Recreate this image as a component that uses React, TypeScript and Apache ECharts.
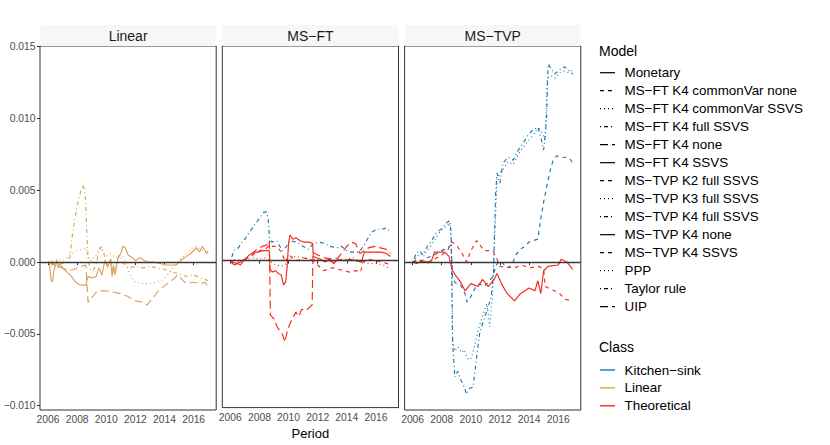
import React, { useEffect, useRef } from "react";
import * as echarts from "echarts";

type Pt = [number, number];

const panelTitles = ["Linear", "MS−FT", "MS−TVP"];
const xTickValues = [2006, 2008, 2010, 2012, 2014, 2016];
const yTickValues = [-0.01, -0.005, 0, 0.005, 0.01, 0.015];
const modelNames = [
  "Monetary",
  "MS−FT K4 commonVar none",
  "MS−FT K4 commonVar SSVS",
  "MS−FT K4 full SSVS",
  "MS−FT K4 none",
  "MS−FT K4 SSVS",
  "MS−TVP K2 full SSVS",
  "MS−TVP K3 full SSVS",
  "MS−TVP K4 full SSVS",
  "MS−TVP K4 none",
  "MS−TVP K4 SSVS",
  "PPP",
  "Taylor rule",
  "UIP",
];
const modelLineTypes = [
  "solid", "dashed", "dotted", "dotdash", "longdash", "solid", "dashed",
  "dotted", "dotdash", "solid", "dashed", "dotted", "dotdash", "longdash",
];
const classNames = ["Kitchen−sink", "Linear", "Theoretical"];
const classColors = ["#1a78ab", "#d9a35a", "#f7291a"];

// ---- Linear panel ----
const linMonetary: Pt[] = [[2006.0,0],[2006.1,-0.0001],[2006.2,-0.0012],[2006.3,-0.0014],[2006.4,-0.0006],[2006.5,-0.0003],[2006.6,0.0001],[2006.7,-0.0004],[2006.8,-0.0001],[2007.0,-0.0004],[2007.3,-0.0007],[2007.6,-0.001],[2007.9,-0.0014],[2008.2,-0.0016],[2008.6,-0.0016],[2008.75,-0.001],[2009.0,-0.0011],[2009.3,-0.001],[2009.5,-0.0004],[2009.7,-0.0009],[2009.9,0.0001],[2010.1,-0.0003],[2010.3,0.0002],[2010.4,-0.001],[2010.5,-0.0002],[2010.6,-0.0009],[2010.8,0.0003],[2011.0,0.0006],[2011.15,0.0011],[2011.3,0.001],[2011.5,0.0005],[2011.8,0.0003],[2012.0,0.0001],[2012.3,0.0003],[2012.8,0.0],[2013.2,0.0],[2013.7,-0.0001],[2014.1,-0.0002],[2014.8,-0.0002],[2015.1,0.0001],[2015.5,0.0004],[2015.8,0.0006],[2016.2,0.001],[2016.4,0.0007],[2016.6,0.0011],[2016.9,0.0006],[2017.0,0.0008]];
const linPPP: Pt[] = [[2006.0,0],[2006.3,0.0001],[2006.7,0.0002],[2007.0,0.0001],[2007.3,0.0003],[2007.6,0.0006],[2008.0,0.0008],[2008.3,0.0009],[2008.6,0.001],[2008.8,0.0002],[2009.0,0.0001],[2009.3,0.0005],[2009.5,0.001],[2009.7,0.0008],[2010.0,0.0004],[2010.3,0.0006],[2010.6,0.0003],[2011.0,0.0005],[2011.3,0.0002],[2011.5,-0.0005],[2011.8,-0.0012],[2012.0,-0.0014],[2012.5,-0.0015],[2013.0,-0.0015],[2013.5,-0.0014],[2013.8,-0.0013],[2014.2,-0.0009],[2014.6,-0.0004],[2015.0,0.0001],[2015.3,0.0004],[2015.6,0.0007],[2015.9,0.001],[2016.2,0.0011],[2016.6,0.0008],[2017.0,0.0005]];
const linTaylor: Pt[] = [[2006.0,0],[2006.3,-0.0002],[2006.6,0.0001],[2007.0,-0.0001],[2007.3,0.0],[2007.5,0.0003],[2007.65,0.0017],[2007.8,0.0027],[2007.95,0.0036],[2008.1,0.0044],[2008.3,0.0051],[2008.4,0.0054],[2008.55,0.0048],[2008.65,0.0025],[2008.75,0.0002],[2008.9,-0.0005],[2009.1,-0.0006],[2009.3,-0.0002],[2009.5,0.0008],[2009.7,0.0011],[2009.9,0.0003],[2010.1,-0.0004],[2010.3,0.0002],[2010.5,-0.0008],[2010.7,-0.0003],[2010.9,0.0005],[2011.2,-0.0001],[2011.5,-0.0004],[2012.0,-0.0003],[2012.5,-0.0004],[2013.0,-0.0003],[2013.5,-0.0004],[2014.0,-0.0005],[2014.5,-0.0007],[2015.0,-0.0008],[2015.5,-0.001],[2016.0,-0.0009],[2016.5,-0.0011],[2017.0,-0.0013]];
const linUIP: Pt[] = [[2006.0,0],[2006.3,-0.0001],[2006.6,-0.0003],[2007.0,-0.0004],[2007.4,-0.0006],[2007.8,-0.0005],[2008.2,-0.0003],[2008.6,-0.0002],[2008.75,-0.0028],[2009.0,-0.0025],[2009.3,-0.0021],[2009.6,-0.002],[2010.0,-0.002],[2010.5,-0.0021],[2011.0,-0.0022],[2011.5,-0.0024],[2012.0,-0.0027],[2012.5,-0.0028],[2012.8,-0.003],[2013.2,-0.0025],[2013.5,-0.0021],[2013.8,-0.0018],[2014.2,-0.0015],[2014.6,-0.0012],[2014.9,-0.0009],[2015.2,-0.0012],[2015.5,-0.0015],[2016.0,-0.0014],[2016.5,-0.0015],[2016.8,-0.0014],[2017.0,-0.0018]];

// ---- MS-FT panel ----
const ftCommonVarNone: Pt[] = [[2006.0,0],[2006.3,-0.0002],[2006.7,-0.0001],[2007.2,0.0002],[2007.7,0.0005],[2008.0,0.0007],[2008.4,0.0008],[2008.7,0.0011],[2008.9,0.001],[2009.2,0.001],[2009.5,0.0006],[2009.8,-0.0001],[2010.0,0.0004],[2010.3,0.0002],[2010.6,0.0],[2011.0,0.0002],[2011.5,0.0001],[2011.8,-0.0001],[2012.1,-0.0004],[2012.4,-0.0007],[2012.7,-0.0006],[2013.0,-0.0005],[2013.4,-0.0006],[2013.8,-0.0007],[2014.2,-0.0008],[2014.6,-0.0007],[2014.95,-0.0008],[2015.1,-0.0001],[2015.5,0.0001],[2016.0,0.0],[2016.5,-0.0001],[2017.0,-0.0003]];
const ftCommonVarSSVS: Pt[] = [[2006.0,0],[2006.4,0.0001],[2006.8,-0.0001],[2007.2,0.0001],[2007.6,0.0002],[2008.0,0.0001],[2008.4,0.0002],[2008.7,0.0],[2008.9,-0.0002],[2009.2,-0.0003],[2009.5,-0.0004],[2009.9,-0.0002],[2010.2,0.0002],[2010.5,0.0003],[2011.0,0.0002],[2011.5,0.0001],[2012.0,0.0001],[2012.5,0.0],[2013.0,-0.0001],[2013.5,0.0001],[2014.0,0.0001],[2014.5,0.0002],[2015.0,-0.0001],[2015.5,-0.0002],[2016.0,-0.0002],[2016.5,-0.0003],[2017.0,-0.0006]];
const ftFullSSVS: Pt[] = [[2006.0,0],[2006.3,0.0008],[2006.55,0.0009],[2006.8,0.0013],[2007.0,0.0015],[2007.25,0.0019],[2007.6,0.0024],[2007.95,0.0029],[2008.3,0.0034],[2008.5,0.0034],[2008.6,0.0029],[2008.7,0.0015],[2008.85,0.0013],[2009.2,0.0014],[2009.4,0.001],[2009.6,0.0007],[2009.85,0.001],[2010.1,0.0014],[2010.55,0.0013],[2011.0,0.001],[2011.35,0.0008],[2011.7,0.0012],[2012.1,0.0013],[2012.5,0.0012],[2012.85,0.001],[2013.3,0.0009],[2013.65,0.001],[2014.0,0.0007],[2014.3,0.0006],[2014.8,0.0006],[2015.0,0.0008],[2015.35,0.0014],[2015.7,0.002],[2016.05,0.0022],[2016.4,0.0022],[2016.75,0.0023],[2017.0,0.002]];
const ftNone: Pt[] = [[2006.0,0],[2006.4,-0.0002],[2006.8,0.0],[2007.2,0.0002],[2007.5,0.0004],[2007.8,0.0008],[2008.2,0.001],[2008.5,0.0011],[2008.68,0.0014],[2008.75,-0.0038],[2009.0,-0.0041],[2009.2,-0.0046],[2009.45,-0.005],[2009.6,-0.0052],[2009.75,-0.0057],[2009.9,-0.005],[2010.1,-0.0044],[2010.3,-0.004],[2010.5,-0.0036],[2010.7,-0.0039],[2010.9,-0.0034],[2011.2,-0.0035],[2011.4,-0.0033],[2011.62,-0.0031],[2011.68,0.0006],[2012.0,0.0004],[2012.5,0.0002],[2013.0,0.0001],[2013.4,0.0002],[2013.7,0.0006],[2014.0,0.001],[2014.3,0.0013],[2014.6,0.0012],[2014.9,0.0005],[2015.2,0.0007],[2015.5,0.0009],[2015.9,0.001],[2016.3,0.0009],[2016.7,0.0008],[2017.0,0.0005]];
const ftSSVS: Pt[] = [[2006.0,0],[2006.15,-0.0002],[2006.3,-0.0003],[2006.5,-0.0002],[2006.7,-0.0003],[2006.9,0.0],[2007.1,0.0002],[2007.3,0.0004],[2007.6,0.0006],[2007.9,0.0006],[2008.2,0.0007],[2008.5,0.0007],[2008.68,0.0007],[2008.72,-0.0006],[2008.9,-0.0008],[2009.1,-0.0007],[2009.3,-0.0009],[2009.5,-0.001],[2009.65,-0.0017],[2009.8,-0.0015],[2009.9,-0.0005],[2010.0,0.0012],[2010.1,0.0018],[2010.3,0.0015],[2010.5,0.0016],[2010.8,0.0014],[2011.1,0.0013],[2011.4,0.0013],[2011.65,0.0012],[2011.7,0.0003],[2011.9,0.0002],[2012.2,0.0001],[2012.5,-0.0001],[2012.8,0.0001],[2013.1,-0.0002],[2013.4,0.0001],[2013.8,0.0],[2014.2,0.0001],[2014.6,0.0],[2015.0,-0.0001],[2015.2,0.0006],[2015.6,0.0006],[2016.0,0.0006],[2016.4,0.0006],[2016.7,0.0005],[2017.0,0.0003]];

// ---- MS-TVP panel ----
const tvpK2Full: Pt[] = [[2006.0,0],[2006.3,0.0002],[2006.6,0.0001],[2007.0,0.0003],[2007.5,0.0005],[2008.0,0.0008],[2008.4,0.001],[2008.65,0.0012],[2008.75,-0.0012],[2009.0,-0.0015],[2009.3,-0.0016],[2009.6,-0.0022],[2009.75,-0.0028],[2010.0,-0.0024],[2010.3,-0.0018],[2010.6,-0.0015],[2010.9,-0.0017],[2011.2,-0.0014],[2011.5,-0.001],[2011.75,-0.0002],[2012.0,0.0001],[2012.3,-0.0002],[2012.6,-0.0004],[2012.9,0.0],[2013.1,0.0005],[2013.4,0.0009],[2013.7,0.0011],[2014.0,0.0014],[2014.3,0.0015],[2014.6,0.0016],[2014.8,0.003],[2015.0,0.0042],[2015.2,0.0052],[2015.45,0.0064],[2015.65,0.0071],[2015.9,0.0074],[2016.2,0.0073],[2016.5,0.0073],[2016.8,0.0072],[2017.0,0.0069]];
const tvpK3Full: Pt[] = [[2006.0,0],[2006.25,0.0003],[2006.5,0.0006],[2006.75,0.0004],[2007.0,0.0008],[2007.3,0.0012],[2007.6,0.0017],[2007.95,0.0022],[2008.3,0.0025],[2008.55,0.0027],[2008.65,0.0015],[2008.75,-0.0055],[2008.9,-0.0062],[2009.1,-0.0059],[2009.35,-0.0063],[2009.55,-0.0061],[2009.75,-0.0067],[2009.95,-0.0068],[2010.15,-0.0063],[2010.4,-0.0052],[2010.6,-0.0044],[2010.85,-0.0036],[2011.1,-0.0029],[2011.3,-0.0045],[2011.5,-0.002],[2011.65,0.002],[2011.8,0.0058],[2012.0,0.0062],[2012.3,0.0066],[2012.55,0.007],[2012.9,0.0068],[2013.25,0.0075],[2013.6,0.008],[2013.9,0.0084],[2014.25,0.0088],[2014.5,0.0092],[2014.7,0.0093],[2014.9,0.009],[2015.1,0.0085],[2015.25,0.0128],[2015.5,0.013],[2015.8,0.0128],[2016.1,0.0132],[2016.4,0.0133],[2016.7,0.0132],[2017.0,0.0134]];
const tvpK4Full: Pt[] = [[2006.0,0],[2006.25,0.0006],[2006.5,0.0008],[2006.7,0.0005],[2006.95,0.001],[2007.3,0.0015],[2007.6,0.002],[2007.95,0.0023],[2008.3,0.0027],[2008.55,0.0029],[2008.65,0.002],[2008.75,-0.0057],[2008.9,-0.008],[2009.1,-0.0076],[2009.35,-0.0083],[2009.55,-0.0087],[2009.7,-0.0092],[2009.9,-0.0088],[2010.15,-0.0087],[2010.4,-0.0066],[2010.6,-0.005],[2010.85,-0.0041],[2011.2,-0.0031],[2011.4,-0.0024],[2011.55,-0.0008],[2011.7,0.0048],[2011.8,0.0062],[2012.0,0.0055],[2012.2,0.0069],[2012.55,0.0073],[2012.9,0.0071],[2013.25,0.0078],[2013.6,0.0083],[2013.9,0.0088],[2014.25,0.0092],[2014.6,0.0094],[2014.85,0.0085],[2015.0,0.0078],[2015.2,0.0099],[2015.3,0.0138],[2015.5,0.0135],[2015.75,0.0131],[2016.0,0.0133],[2016.2,0.0135],[2016.45,0.0136],[2016.65,0.0134],[2017.0,0.0131]];
const tvpK4None: Pt[] = [[2006.0,0],[2006.3,-0.0001],[2006.6,0.0001],[2007.0,0.0],[2007.3,0.0001],[2007.5,0.0007],[2007.9,0.0007],[2008.2,0.0007],[2008.5,0.0004],[2008.7,-0.0005],[2009.0,-0.001],[2009.3,-0.0014],[2009.6,-0.002],[2010.0,-0.0015],[2010.5,-0.0017],[2010.8,-0.0012],[2011.2,-0.0017],[2011.6,-0.0012],[2011.8,-0.0008],[2012.1,-0.0015],[2012.5,-0.0022],[2013.0,-0.0027],[2013.4,-0.0022],[2014.0,-0.0018],[2014.4,-0.002],[2014.6,-0.0013],[2014.8,-0.0022],[2015.0,-0.0006],[2015.3,-0.0003],[2016.0,-0.0002],[2016.2,0.0002],[2016.6,0.0],[2017.0,-0.0005]];
const tvpK4SSVS: Pt[] = [[2006.0,0],[2006.5,0.0001],[2007.0,-0.0001],[2007.5,0.0002],[2008.0,0.0005],[2008.4,0.0008],[2008.7,0.0014],[2009.0,0.0012],[2009.4,0.0006],[2009.7,0.0],[2010.0,0.0008],[2010.4,0.0015],[2010.9,0.0008],[2011.5,0.0008],[2011.8,0.0002],[2012.0,-0.0003],[2013.0,-0.0004],[2013.5,-0.0002],[2014.0,-0.0004],[2014.7,-0.0003],[2015.0,-0.0005],[2015.1,-0.0017],[2015.5,-0.0019],[2016.0,-0.0021],[2016.5,-0.0026],[2017.0,-0.0027]];

// panel index, model index, class index, data
const seriesDefs: [number, number, number, Pt[]][] = [
  [0, 0, 1, linMonetary],
  [0, 11, 1, linPPP],
  [0, 12, 1, linTaylor],
  [0, 13, 1, linUIP],
  [1, 1, 2, ftCommonVarNone],
  [1, 2, 2, ftCommonVarSSVS],
  [1, 3, 0, ftFullSSVS],
  [1, 4, 2, ftNone],
  [1, 5, 2, ftSSVS],
  [2, 6, 0, tvpK2Full],
  [2, 7, 0, tvpK3Full],
  [2, 8, 0, tvpK4Full],
  [2, 9, 2, tvpK4None],
  [2, 10, 2, tvpK4SSVS],
];

const dashFor = (t: string): any => {
  if (t === "dashed") return [4, 4];
  if (t === "dotted") return [1, 3];
  if (t === "dotdash") return [1, 3, 4, 3];
  if (t === "longdash") return [8, 4];
  return "solid";
};

const FONT = "Liberation Sans, Arial, Helvetica, sans-serif";
const PANEL_LEFTS = [40, 222.3, 404.6];
const PANEL_W = 176.2;
const PANEL_TOP = 46;
const PANEL_H = 364;

export default function App() {
  const ref = useRef<HTMLDivElement>(null);
  useEffect(() => {
    document.body.style.margin = "0";
    if (!ref.current) return;
    const chart = echarts.init(ref.current, undefined, { renderer: "svg" });

    const grids = PANEL_LEFTS.map((l) => ({
      left: l,
      top: PANEL_TOP,
      width: PANEL_W,
      height: PANEL_H,
      show: true,
      borderColor: "#333333",
      borderWidth: 1,
      backgroundColor: "#ffffff",
      containLabel: false,
    }));

    const xAxes = PANEL_LEFTS.map((_, i) => ({
      type: "value",
      gridIndex: i,
      min: 2005.45,
      max: 2017.55,
      splitLine: { show: false },
      axisLine: { show: false },
      axisTick: {
        show: true,
        customValues: xTickValues,
        length: 3,
        lineStyle: { color: "#333333", width: 1 },
      },
      axisLabel: {
        show: true,
        customValues: xTickValues,
        formatter: (v: number) => String(v),
        color: "#4d4d4d",
        fontSize: 10.3,
        fontFamily: FONT,
        margin: 4.5,
      },
      name: i === 1 ? "Period" : "",
      nameLocation: "middle",
      nameGap: 19,
      nameTextStyle: { color: "#000000", fontSize: 13, fontFamily: FONT },
    }));

    const yAxes = PANEL_LEFTS.map((_, i) => ({
      type: "value",
      gridIndex: i,
      min: -0.0103,
      max: 0.01505,
      splitLine: { show: false },
      axisLine: { show: false },
      axisTick: {
        show: i === 0,
        customValues: yTickValues,
        length: 3,
        lineStyle: { color: "#333333", width: 1 },
      },
      axisLabel: {
        show: i === 0,
        customValues: yTickValues,
        formatter: (v: number) => v.toFixed(3).replace("-", "−"),
        color: "#4d4d4d",
        fontSize: 10.3,
        fontFamily: FONT,
        margin: 4.5,
      },
    }));

    const series: any[] = seriesDefs.map(([p, m, c, data]) => ({
      type: "line",
      name: modelNames[m],
      xAxisIndex: p,
      yAxisIndex: p,
      data,
      showSymbol: false,
      symbol: "none",
      lineStyle: { color: classColors[c], width: 1.15, type: dashFor(modelLineTypes[m]) },
      z: 2,
    }));

    PANEL_LEFTS.forEach((_, i) => {
      series.push({
        type: "line",
        name: "zero" + i,
        xAxisIndex: i,
        yAxisIndex: i,
        data: [],
        markLine: {
          silent: true,
          symbol: ["none", "none"],
          label: { show: false },
          lineStyle: { color: "#3a3a3a", width: 1.3, type: "solid" },
          data: [{ yAxis: 0 }],
          z: 5,
        },
      });
    });

    const graphic: any[] = [];
    PANEL_LEFTS.forEach((l, i) => {
      graphic.push({
        type: "rect",
        shape: { x: l + 0.5, y: 25, width: PANEL_W - 1, height: 21 },
        style: { fill: "#f7f7f7" },
        silent: true,
      });
      graphic.push({
        type: "text",
        x: l + PANEL_W / 2,
        y: 36,
        style: {
          text: panelTitles[i],
          fill: "#1a1a1a",
          fontSize: 14,
          fontFamily: FONT,
          align: "center",
          verticalAlign: "middle",
        },
      });
    });

    // Model legend
    graphic.push({
      type: "text",
      x: 599,
      y: 50.5,
      style: { text: "Model", fill: "#000", fontSize: 14, fontFamily: FONT, verticalAlign: "middle" },
    });
    modelNames.forEach((name, i) => {
      const y = 72.7 + 18 * i;
      const dash = dashFor(modelLineTypes[i]);
      graphic.push({
        type: "line",
        shape: { x1: 600, y1: y, x2: 615, y2: y },
        style: { stroke: "#000", lineWidth: 1.2, lineDash: dash === "solid" ? null : dash },
        silent: true,
      });
      graphic.push({
        type: "text",
        x: 624.5,
        y,
        style: { text: name, fill: "#000", fontSize: 13.4, fontFamily: FONT, verticalAlign: "middle" },
      });
    });

    // Class legend
    graphic.push({
      type: "text",
      x: 599,
      y: 346.7,
      style: { text: "Class", fill: "#000", fontSize: 14, fontFamily: FONT, verticalAlign: "middle" },
    });
    classNames.forEach((name, i) => {
      const y = 370 + 17.9 * i;
      graphic.push({
        type: "line",
        shape: { x1: 600, y1: y, x2: 615, y2: y },
        style: { stroke: classColors[i], lineWidth: 1.4 },
        silent: true,
      });
      graphic.push({
        type: "text",
        x: 624.5,
        y,
        style: { text: name, fill: "#000", fontSize: 13.4, fontFamily: FONT, verticalAlign: "middle" },
      });
    });

    chart.setOption({
      animation: false,
      backgroundColor: "#ffffff",
      grid: grids,
      xAxis: xAxes,
      yAxis: yAxes,
      series,
      graphic,
    });
    return () => chart.dispose();
  }, []);

  return <div ref={ref} style={{ position: "fixed", left: 0, top: 0, width: 830, height: 445 }} />;
}
